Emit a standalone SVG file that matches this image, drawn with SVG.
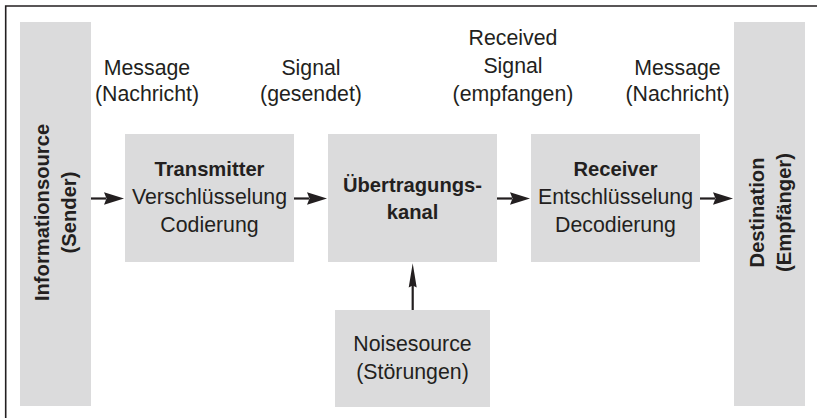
<svg xmlns="http://www.w3.org/2000/svg" width="817" height="418" viewBox="0 0 817 418">
<style>
.box{fill:#dbdbdc}
text{font-family:"Liberation Sans",Arial,sans-serif;fill:#231f20;text-anchor:middle}
.r{font-size:21.3px}
.b{font-size:20.2px;font-weight:bold}
.ln{stroke:#231f20;stroke-width:2.2;fill:none}
.ah{fill:#231f20}
</style>
<rect width="817" height="418" fill="#fff"/>
<path d="M5.7,418 V6 H817" fill="none" stroke="#231f20" stroke-width="1.6"/>

<g id="source">
<rect class="box" x="20" y="22" width="71" height="384"/>
<text class="b" transform="translate(49,212.5) rotate(-90)">Informationsource</text>
<text class="b" transform="translate(76,212.5) rotate(-90)">(Sender)</text>
</g>

<g id="destination">
<rect class="box" x="734" y="22" width="71" height="384"/>
<text class="b" transform="translate(764,212.5) rotate(-90)">Destination</text>
<text class="b" transform="translate(791,212.5) rotate(-90)">(Empfänger)</text>
</g>

<g id="transmitter">
<rect class="box" x="125" y="134" width="169" height="128"/>
<text class="b" x="209.5" y="176">Transmitter</text>
<text class="r" x="209.5" y="204">Verschlüsselung</text>
<text class="r" x="209.5" y="232">Codierung</text>
</g>

<g id="kanal">
<rect class="box" x="328" y="134" width="169" height="128"/>
<text class="b" x="412.5" y="192">Übertragungs-</text>
<text class="b" x="412.5" y="219">kanal</text>
</g>

<g id="receiver">
<rect class="box" x="531" y="134" width="169" height="128"/>
<text class="b" x="615.5" y="176">Receiver</text>
<text class="r" x="615.5" y="204">Entschlüsselung</text>
<text class="r" x="615.5" y="232">Decodierung</text>
</g>

<g id="noise">
<rect class="box" x="335" y="310" width="155" height="97"/>
<text class="r" x="412.5" y="351">Noisesource</text>
<text class="r" x="412.5" y="379">(Störungen)</text>
</g>

<g id="labels">
<text class="r" x="147" y="75">Message</text>
<text class="r" x="147" y="101">(Nachricht)</text>
<text class="r" x="311" y="75">Signal</text>
<text class="r" x="311" y="101">(gesendet)</text>
<text class="r" x="513" y="45">Received</text>
<text class="r" x="513" y="73">Signal</text>
<text class="r" x="513" y="101">(empfangen)</text>
<text class="r" x="677.5" y="75">Message</text>
<text class="r" x="677.5" y="101">(Nachricht)</text>
</g>

<g id="connectors">
<line class="ln" x1="91" y1="198.5" x2="106" y2="198.5"/>
<path class="ah" d="M104,192.3 L124,198.5 L104,204.7 L106.5,198.5 Z"/>
<line class="ln" x1="294" y1="198.5" x2="309" y2="198.5"/>
<path class="ah" d="M307,192.3 L327,198.5 L307,204.7 L309.5,198.5 Z"/>
<line class="ln" x1="497" y1="198.5" x2="512" y2="198.5"/>
<path class="ah" d="M510,192.3 L530,198.5 L510,204.7 L512.5,198.5 Z"/>
<line class="ln" x1="700" y1="198.5" x2="715" y2="198.5"/>
<path class="ah" d="M713,192.3 L733,198.5 L713,204.7 L715.5,198.5 Z"/>
<line class="ln" x1="412.7" y1="310" x2="412.7" y2="285"/>
<path class="ah" d="M408.7,287.5 L412.7,263.3 L416.7,287.5 L412.7,285.5 Z"/>
</g>
</svg>
